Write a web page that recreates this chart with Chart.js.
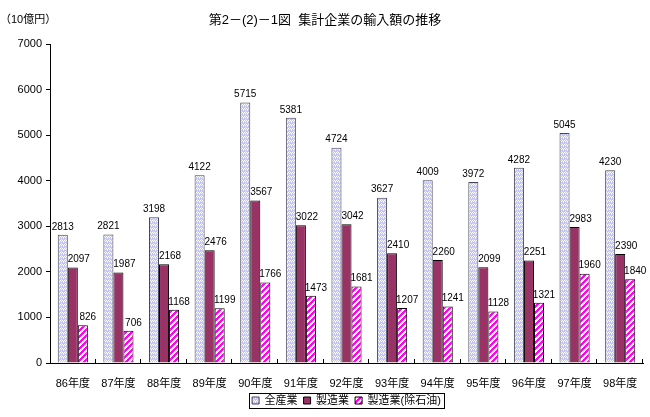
<!DOCTYPE html>
<html>
<head>
<meta charset="utf-8">
<script src="https://cdn.jsdelivr.net/npm/chart.js@4/dist/chart.umd.min.js"></script>
<style>
  html, body { margin: 0; padding: 0; background: #fff; }
  #wrap { width: 650px; height: 417px; position: relative; }
</style>
</head>
<body>
<div id="wrap"><canvas id="chart" width="650" height="417"></canvas></div>
<script>
const years = ['86年度', '87年度', '88年度', '89年度', '90年度', '91年度', '92年度', '93年度', '94年度', '95年度', '96年度', '97年度', '98年度'];
const allIndustry = [2813, 2821, 3198, 4122, 5715, 5381, 4724, 3627, 4009, 3972, 4282, 5045, 4230];
const manufacturing = [2097, 1987, 2168, 2476, 3567, 3022, 3042, 2410, 2260, 2099, 2251, 2983, 2390];
const mfgExOil = [826, 706, 1168, 1199, 1766, 1473, 1681, 1207, 1241, 1128, 1321, 1960, 1840];
const seriesNames = ['全産業', '製造業', '製造業(除石油)'];
const yTicks = [0, 1000, 2000, 3000, 4000, 5000, 6000, 7000];

const FONT = '"Liberation Sans", "Noto Sans CJK JP", sans-serif';

// lavender fill with white zigzag
function dotPattern() {
    const c = document.createElement('canvas');
    c.width = 4; c.height = 4;
    const g = c.getContext('2d');
    g.fillStyle = '#c4c4f4';
    g.fillRect(0, 0, 4, 4);
    g.fillStyle = '#ffffff';
    g.fillRect(0, 0, 1, 1);
    g.fillRect(2, 0, 1, 1);
    g.fillRect(1, 1, 1, 1);
    g.fillRect(3, 1, 1, 1);
    g.fillStyle = '#e8e8fc';
    g.fillRect(1, 3, 1, 1);
    g.fillRect(3, 2, 1, 1);
    return g.createPattern(c, 'repeat');
}

// magenta / pale yellow diagonal stripes
function stripePattern() {
    const n = 6;
    const c = document.createElement('canvas');
    c.width = n; c.height = n;
    const g = c.getContext('2d');
    g.fillStyle = '#ffffc0';
    g.fillRect(0, 0, n, n);
    g.fillStyle = '#ff00ff';
    for (let y = 0; y < n; y++) {
        for (let x = 0; x < n; x++) {
            if (((x + y) % n) < 3) g.fillRect(x, y, 1, 1);
        }
    }
    return g.createPattern(c, 'repeat');
}

// label nudges per series (Excel puts them a bit right of the bar)
const labelShift = [0, 6, 5];

const titlePlugin = {
    id: 'extras',
    afterLayout(chart) {
        // centre the legend under the plot area rather than the canvas
        // (legend's own afterUpdate recomputes the hit boxes afterwards)
        const lg = chart.legend;
        if (!lg) return;
        const dx = Math.round((chart.chartArea.left + chart.chartArea.right) / 2 - (lg.left + lg.right) / 2);
        lg.left += dx;
        lg.right += dx;
    },
    afterDraw(chart) {
        const ctx = chart.ctx;
        ctx.save();
        ctx.fillStyle = '#000';
        ctx.textBaseline = 'middle';
        ctx.textAlign = 'center';
        ctx.font = '13px ' + FONT;
        ctx.fillText('第2－(2)－1図  集計企業の輸入額の推移', 325, 20);
        ctx.textAlign = 'left';
        ctx.font = '11px ' + FONT;
        ctx.fillText('（10億円）', 0, 20);

        // small upward ticks between categories on the x axis
        const xs = chart.scales.x;
        const step = (xs.right - xs.left) / years.length;
        ctx.strokeStyle = '#000';
        ctx.lineWidth = 1;
        ctx.beginPath();
        for (let i = 1; i <= years.length; i++) {
            const px = Math.round(xs.left + i * step) - 0.5;
            ctx.moveTo(px, xs.top);
            ctx.lineTo(px, xs.top - 4);
        }
        ctx.stroke();

        // frame around legend
        const lg = chart.legend;
        if (lg && lg.legendHitBoxes && lg.legendHitBoxes.length) {
            const boxes = lg.legendHitBoxes;
            const l = Math.min(...boxes.map(b => b.left)) - 3;
            const r = Math.max(...boxes.map(b => b.left + b.width)) + 3;
            const t = Math.min(...boxes.map(b => b.top)) - 2;
            const bt = Math.max(...boxes.map(b => b.top + b.height)) + 2;
            ctx.strokeRect(Math.round(l) + 0.5, Math.round(t) + 0.5, Math.round(r - l), Math.round(bt - t));
        }
        ctx.restore();
    },
    afterDatasetsDraw(chart) {
        const ctx = chart.ctx;
        ctx.save();
        ctx.fillStyle = '#000';
        ctx.font = '10px ' + FONT;
        ctx.textAlign = 'center';
        ctx.textBaseline = 'bottom';
        chart.data.datasets.forEach((ds, i) => {
            chart.getDatasetMeta(i).data.forEach((bar, j) => {
                ctx.fillText(String(ds.data[j]), bar.x + labelShift[i], bar.y - 3);
            });
        });
        ctx.restore();
    }
};

const chart = new Chart(document.getElementById('chart').getContext('2d'), {
    type: 'bar',
    data: {
        labels: years,
        datasets: [
            { label: seriesNames[0], data: allIndustry, backgroundColor: dotPattern(), borderColor: '#44445a', borderWidth: 1 },
            { label: seriesNames[1], data: manufacturing, backgroundColor: '#993366', borderColor: '#000', borderWidth: 1 },
            { label: seriesNames[2], data: mfgExOil, backgroundColor: stripePattern(), borderColor: '#000', borderWidth: 1 }
        ]
    },
    options: {
        responsive: false,
        animation: false,
        devicePixelRatio: 1,
        layout: { padding: { left: 0, right: 7, top: 44, bottom: 1 } },
        datasets: { bar: { categoryPercentage: 0.66, barPercentage: 1.0 } },
        scales: {
            x: {
                grid: { display: false },
                border: { color: '#000', width: 1 },
                ticks: { color: '#000', font: { family: FONT, size: 11 }, maxRotation: 0, autoSkip: false, padding: 6 },
                afterFit(scale) { scale.height = 26; }
            },
            y: {
                min: 0,
                max: 7000,
                afterBuildTicks(scale) { scale.ticks = yTicks.map(v => ({ value: v })); },
                grid: { drawOnChartArea: false, tickLength: 4, color: '#000' },
                border: { color: '#000', width: 1 },
                ticks: { color: '#000', font: { family: FONT, size: 11 }, padding: 4, autoSkip: false, callback: v => String(v) },
                afterFit(scale) { scale.width = 50; }
            }
        },
        plugins: {
            legend: {
                position: 'bottom',
                labels: {
                    color: '#000',
                    font: { family: FONT, size: 11 },
                    boxWidth: 7,
                    boxHeight: 7,
                    padding: 6
                }
            },
            tooltip: { enabled: false }
        }
    },
    plugins: [titlePlugin]
});
</script>
</body>
</html>
